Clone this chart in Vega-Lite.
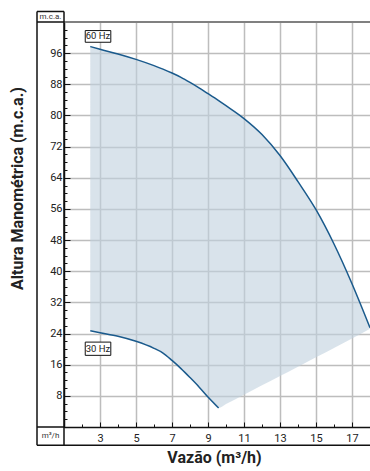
{
  "$schema": "https://vega.github.io/schema/vega-lite/v6.json",
  "width": 306,
  "height": 405,
  "autosize": "none",
  "padding": {"left": 64, "top": 22, "right": 0, "bottom": 44},
  "background": "white",
  "config": {
    "view": {"stroke": null},
    "font": "Roboto",
    "text": {"font": "Roboto"},
    "axis": {"labelFont": "Roboto", "titleFont": "Roboto"}
  },
  "datasets": {
    "curves": [
      {"q": 2.46, "hi": 97.7, "lo": 24.7},
      {"q": 3, "hi": 97.0, "lo": 24.2},
      {"q": 4, "hi": 95.8, "lo": 23.3},
      {"q": 5, "hi": 94.4, "lo": 22.0},
      {"q": 6, "hi": 92.8, "lo": 20.2},
      {"q": 6.5, "hi": 91.9, "lo": 19.0},
      {"q": 7, "hi": 90.9, "lo": 17.1},
      {"q": 7.5, "hi": 89.8, "lo": 15.0},
      {"q": 8, "hi": 88.5, "lo": 12.7},
      {"q": 8.5, "hi": 87.1, "lo": 10.3},
      {"q": 9, "hi": 85.6, "lo": 7.7},
      {"q": 9.59, "hi": 83.8, "lo": 4.9},
      {"q": 10, "hi": 82.5, "lo": 5.9},
      {"q": 11, "hi": 79.2, "lo": 8.3},
      {"q": 12, "hi": 75.1, "lo": 10.7},
      {"q": 13, "hi": 69.7, "lo": 13.1},
      {"q": 14, "hi": 63.0, "lo": 15.5},
      {"q": 15, "hi": 55.8, "lo": 17.9},
      {"q": 16, "hi": 47.0, "lo": 20.3},
      {"q": 17, "hi": 36.8, "lo": 22.7},
      {"q": 18, "hi": 25.5, "lo": 25.2}
    ]
  },
  "layer": [
    {
      "data": {"name": "curves"},
      "mark": {"type": "area", "color": "#bfd1dd", "opacity": 0.6, "interpolate": "monotone"},
      "encoding": {
        "x": {
          "field": "q", "type": "quantitative",
          "scale": {"domain": [1, 18], "nice": false, "zero": false},
          "axis": {
            "title": "Vazão (m³/h)",
            "titleFontSize": 16, "titleFontWeight": "bold", "titleColor": "#222",
            "titleX": 150, "titleY": 30, "titleBaseline": "middle", "titleAlign": "center",
            "values": [1,2,3,4,5,6,7,8,9,10,11,12,13,14,15,16,17,18],
            "tickCount": 100,
            "format": "d",
            "labelExpr": "datum.value % 2 == 1 && datum.value >= 3 ? datum.label : ''",
            "labelOverlap": false,
            "labelFontSize": 11, "labelColor": "#222", "labelPadding": 10, "labelBaseline": "top",
            "grid": true,
            "gridColor": {"condition": {"test": "datum.value % 2 == 1 && datum.value >= 3", "value": "#bdbdbd"}, "value": "transparent"},
            "gridWidth": 1.5,
            "domainColor": "#111", "domainWidth": 1.5,
            "tickColor": "#111", "tickWidth": 1,
            "tickSize": {"condition": {"test": "datum.value % 2 == 1", "value": -5}, "value": -3}
          }
        },
        "y": {
          "field": "hi", "type": "quantitative",
          "scale": {"domain": [0, 104], "nice": false, "zero": false},
          "axis": {
            "title": "Altura Manométrica (m.c.a.)",
            "titleFontSize": 16, "titleFontWeight": "bold", "titleColor": "#222",
            "titleX": -47, "titleY": 166, "titleBaseline": "middle", "titleAlign": "center", "titleAngle": -90,
            "values": [0,2,4,6,8,10,12,14,16,18,20,22,24,26,28,30,32,34,36,38,40,42,44,46,48,50,52,54,56,58,60,62,64,66,68,70,72,74,76,78,80,82,84,86,88,90,92,94,96,98,100,102,104],
            "tickCount": 100,
            "format": "d",
            "labelExpr": "datum.value % 8 == 0 && datum.value > 0 && datum.value < 100 ? datum.label : ''",
            "labelOverlap": false,
            "labelFontSize": 11, "labelColor": "#222", "labelPadding": 8,
            "grid": true,
            "gridColor": {"condition": {"test": "datum.value % 8 == 0 && datum.value > 0 && datum.value < 100", "value": "#bdbdbd"}, "value": "transparent"},
            "gridWidth": 1.5,
            "domainColor": "#111", "domainWidth": 1.5,
            "tickColor": "#111", "tickWidth": 1,
            "tickSize": {"condition": {"test": "datum.value % 8 == 0", "value": -6}, "value": -3}
          }
        },
        "y2": {"field": "lo"}
      }
    },
    {
      "data": {"name": "curves"},
      "mark": {"type": "line", "color": "#1a5a8c", "strokeWidth": 1.5, "interpolate": "monotone"},
      "encoding": {
        "x": {"field": "q", "type": "quantitative"},
        "y": {"field": "hi", "type": "quantitative"}
      }
    },
    {
      "data": {"name": "curves"},
      "transform": [{"filter": "datum.q <= 9.6"}],
      "mark": {"type": "line", "color": "#1a5a8c", "strokeWidth": 1.5, "interpolate": "monotone"},
      "encoding": {
        "x": {"field": "q", "type": "quantitative"},
        "y": {"field": "lo", "type": "quantitative"}
      }
    },
    {
      "data": {"values": [{}]},
      "mark": {"type": "rule", "color": "#808080", "strokeWidth": 2, "clip": false},
      "encoding": {"x": {"datum": 1}, "x2": {"datum": 18}, "y": {"datum": 104}}
    },
    {
      "data": {"values": [{}]},
      "mark": {"type": "rule", "color": "#111", "strokeWidth": 1.5, "clip": false},
      "encoding": {"x": {"datum": -0.5}, "y": {"datum": 106.7}, "y2": {"datum": -4.67}}
    },
    {
      "data": {"values": [{}]},
      "mark": {"type": "rule", "color": "#111", "strokeWidth": 1.5, "clip": false},
      "encoding": {"x": {"datum": 1}, "y": {"datum": 106.7}, "y2": {"datum": -4.67}}
    },
    {
      "data": {"values": [{}]},
      "mark": {"type": "rule", "color": "#111", "strokeWidth": 1.5, "clip": false},
      "encoding": {"x": {"datum": -0.5}, "x2": {"datum": 18}, "y": {"datum": -4.67}}
    },
    {
      "data": {"values": [{}]},
      "mark": {"type": "rule", "color": "#111", "strokeWidth": 1.5, "clip": false},
      "encoding": {"x": {"datum": -0.5}, "x2": {"datum": 1}, "y": {"datum": 0}}
    },
    {
      "data": {"values": [{}]},
      "mark": {"type": "rule", "color": "#111", "strokeWidth": 1.5, "clip": false},
      "encoding": {"x": {"datum": -0.5}, "x2": {"datum": 1}, "y": {"datum": 104}}
    },
    {
      "data": {"values": [{}]},
      "mark": {"type": "rule", "color": "#111", "strokeWidth": 1.5, "clip": false},
      "encoding": {"x": {"datum": -0.5}, "x2": {"datum": 1}, "y": {"datum": 106.7}}
    },
    {
      "data": {"values": [{}]},
      "mark": {"type": "text", "text": "m.c.a.", "fontSize": 8, "color": "#333", "clip": false},
      "encoding": {"x": {"datum": 0.25}, "y": {"datum": 105.3}}
    },
    {
      "data": {"values": [{}]},
      "mark": {"type": "text", "text": "m³/h", "fontSize": 8, "color": "#333", "clip": false},
      "encoding": {"x": {"datum": 0.25}, "y": {"datum": -2.36}}
    },
    {
      "data": {"values": [{}]},
      "mark": {"type": "rect", "fill": "white", "stroke": "#111", "strokeWidth": 1},
      "encoding": {"x": {"datum": 2.18}, "x2": {"datum": 3.6}, "y": {"datum": 101.8}, "y2": {"datum": 98.8}}
    },
    {
      "data": {"values": [{}]},
      "mark": {"type": "text", "text": "60 Hz", "fontSize": 9.5, "color": "#222"},
      "encoding": {"x": {"datum": 2.89}, "y": {"datum": 100.3}}
    },
    {
      "data": {"values": [{}]},
      "mark": {"type": "rect", "fill": "white", "stroke": "#111", "strokeWidth": 1},
      "encoding": {"x": {"datum": 2.18}, "x2": {"datum": 3.6}, "y": {"datum": 21.8}, "y2": {"datum": 18.4}}
    },
    {
      "data": {"values": [{}]},
      "mark": {"type": "text", "text": "30 Hz", "fontSize": 9.5, "color": "#222"},
      "encoding": {"x": {"datum": 2.89}, "y": {"datum": 20.1}}
    }
  ]
}
